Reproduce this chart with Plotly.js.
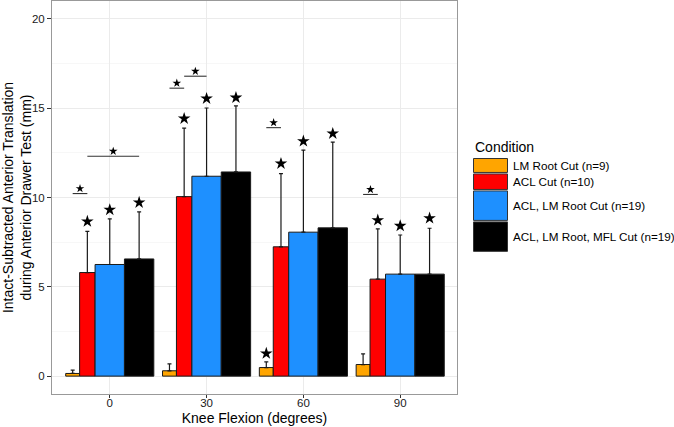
<!DOCTYPE html>
<html>
<head>
<meta charset="utf-8">
<script src="https://cdn.plot.ly/plotly-3.0.1.min.js"></script>
<style>html,body{margin:0;padding:0;background:#fff;}#chart{width:674px;height:427px;}</style>
</head>
<body>
<div id="chart"></div>
<script>
// ---- data ----
var angles = [0, 30, 60, 90];
var conditions = ['LM Root Cut (n=9)', 'ACL Cut (n=10)', 'ACL, LM Root Cut (n=19)', 'ACL, LM Root, MFL Cut (n=19)'];
var nSamples = [9, 10, 19, 19];
var meanLM = [0.15, 0.30, 0.48, 0.65];
var meanACL = [5.80, 10.05, 7.24, 5.43];
var meanACLLM = [6.25, 11.19, 8.06, 5.71];
var meanACLLMMFL = [6.56, 11.43, 8.30, 5.71];
var sdLM = [0.19, 0.39, 0.32, 0.60];
var sdACL = [2.30, 3.83, 4.10, 2.81];
var sdACLLM = [2.55, 3.82, 4.59, 2.19];
var sdACLLMMFL = [2.64, 3.70, 4.80, 2.57];
var starLM = [null, null, 1.27, null];
var starACL = [8.66, 14.42, 11.90, 8.73];
var starACLLM = [9.31, 15.54, 13.15, 8.41];
var starACLLMMFL = [9.72, 15.59, 13.58, 8.84];
// significance brackets: angle, condition index from, condition index to, height
var sigAngle = [0, 0, 30, 30, 60, 90];
var sigFrom = [0, 1, 0, 1, 0, 0];
var sigTo = [1, 3, 1, 2, 1, 1];
var sigY = [10.22, 12.31, 16.12, 16.79, 13.91, 10.17];

// ---- styling / layout ----
var colors = ['#FFA500', '#FF0000', '#1E90FF', '#000000'];
var means = [meanLM, meanACL, meanACLLM, meanACLLMMFL];
var sds = [sdLM, sdACL, sdACLLM, sdACLLMMFL];
var stars = [starLM, starACL, starACLLM, starACLLMMFL];
var widthPerN = 0.479;
var widths = nSamples.map(function(n){ return n * widthPerN; });
var total = widths.reduce(function(a, b){ return a + b; }, 0);
var offsets = [];
var acc = -total / 2;
for (var i = 0; i < widths.length; i++) { offsets.push(acc); acc += widths[i]; }
function center(angle, ci) { return angle + offsets[ci] + widths[ci] / 2; }

var traces = [];
for (var c = 0; c < 4; c++) {
  traces.push({
    type: 'bar', x: angles, y: means[c], name: conditions[c],
    width: widths[c], offset: offsets[c],
    marker: {color: colors[c], line: {color: '#1a1a1a', width: 1}},
    error_y: {type: 'data', symmetric: false, array: sds[c], arrayminus: angles.map(function(){return 0;}),
              color: '#1a1a1a', thickness: 1.2, width: 2},
    showlegend: false, hoverinfo: 'skip'
  });
}
for (var c2 = 0; c2 < 4; c2++) {
  traces.push({
    type: 'scatter', mode: 'markers',
    x: angles.map(function(a){ return center(a, c2); }), y: stars[c2],
    marker: {symbol: 'star', size: 9.5, color: '#000'},
    showlegend: false, hoverinfo: 'skip', cliponaxis: false
  });
}
var lx = [], ly = [], sx = [], sy = [];
for (var s = 0; s < sigAngle.length; s++) {
  var x0 = center(sigAngle[s], sigFrom[s]), x1 = center(sigAngle[s], sigTo[s]);
  lx.push(x0, x1, null); ly.push(sigY[s], sigY[s], null);
  sx.push((x0 + x1) / 2); sy.push(sigY[s] + 0.28);
}
traces.push({type: 'scatter', mode: 'lines', x: lx, y: ly, line: {color: '#333', width: 1.1},
  showlegend: false, hoverinfo: 'skip'});
traces.push({type: 'scatter', mode: 'markers', x: sx, y: sy,
  marker: {symbol: 'star', size: 6.5, color: '#000'}, showlegend: false, hoverinfo: 'skip'});

// plot area in pixels
var L = 52, T = 1, W = 405, H = 393;
function px(x) { return (x - L) / W; }
function py(y) { return (T + H - y) / H; }

var shapes = [];
var annotations = [];
var font = 'Liberation Sans, Arial, Helvetica, sans-serif';
annotations.push({xref: 'paper', yref: 'paper', x: px(473), y: py(146.5), xanchor: 'left', yanchor: 'middle',
  text: 'Condition', showarrow: false, font: {family: font, size: 14, color: '#000'}});
var ky = 158.5;
for (var k = 0; k < 4; k++) {
  var h = nSamples[k] * 1.55;
  shapes.push({type: 'rect', xref: 'paper', yref: 'paper', x0: px(473.5), x1: px(507.5), y0: py(ky), y1: py(ky + h),
    fillcolor: colors[k], line: {color: '#333', width: 1}});
  annotations.push({xref: 'paper', yref: 'paper', x: px(510.5), y: py(ky + h / 2), xanchor: 'left', yanchor: 'middle',
    text: conditions[k], showarrow: false, font: {family: font, size: 11.7, color: '#000'}});
  ky += h + 1.5;
}

var layout = {
  width: 674, height: 427,
  margin: {l: L, r: 674 - L - W, t: T, b: 427 - T - H, pad: 0},
  paper_bgcolor: '#fff', plot_bgcolor: '#fff',
  barmode: 'overlay', showlegend: false,
  font: {family: font, color: '#000'},
  xaxis: {
    range: [-17.9, 107.6], tickvals: angles, ticktext: angles.map(String),
    showgrid: true, gridcolor: '#EBEBEB', gridwidth: 1,
    zeroline: false, showline: true, linecolor: '#999', linewidth: 1, mirror: true,
    ticks: 'outside', ticklen: 3, tickcolor: '#333', tickwidth: 1, ticklabelstandoff: -5,
    tickfont: {size: 11.5, color: '#1a1a1a'},
    title: {text: 'Knee Flexion (degrees)', font: {size: 14, color: '#000'}, standoff: 5}
  },
  yaxis: {
    range: [-1, 21], tickvals: [0, 5, 10, 15, 20],
    showgrid: true, gridcolor: '#EBEBEB', gridwidth: 1,
    minor: {dtick: 2.5, tick0: 0, showgrid: true, gridcolor: '#F5F5F5', gridwidth: 0.8},
    zeroline: false, showline: true, linecolor: '#999', linewidth: 1, mirror: true,
    ticks: 'outside', ticklen: 4, tickcolor: '#333', tickwidth: 1,
    tickfont: {size: 11.5, color: '#1a1a1a'},
    title: {text: 'Intact-Subtracted Anterior Translation<br>during Anterior Drawer Test (mm)', font: {size: 14, color: '#000'}, standoff: 4}
  },
  shapes: shapes,
  annotations: annotations
};
Plotly.newPlot('chart', traces, layout, {displayModeBar: false, staticPlot: true});
</script>
</body>
</html>
